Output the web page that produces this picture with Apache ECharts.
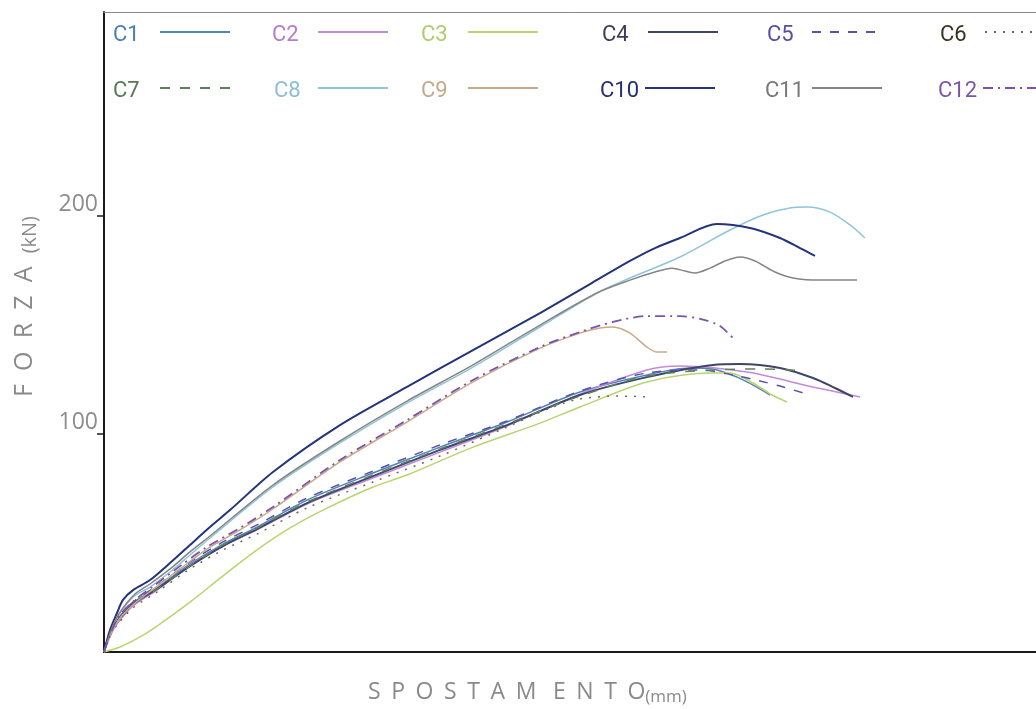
<!DOCTYPE html>
<html>
<head>
<meta charset="utf-8">
<script src="https://cdn.jsdelivr.net/npm/echarts@6/dist/echarts.min.js"></script>
<style>
html,body{margin:0;padding:0;background:#fff;}
#chart{width:1036px;height:709px;}
</style>
</head>
<body>
<div id="chart"></div>
<script>
// ---- data (x: displacement, y: force kN) ----
const names = ['C1','C2','C3','C4','C5','C6','C7','C8','C9','C10','C11','C12'];
const yTicks = [100, 200];

const C1 = [[0,0],[0.6,8.3],[1.3,13.8],[2.9,22.5],[5.3,29.4],[8.6,40.4],[11.9,49.5],[15.3,57.3],[20.3,69.7],[26.9,82.1],[33.6,94.0],[40.3,105.5],[47.6,119.3],[54.3,127.1],[58.6,130.3],[60.9,129.8],[63.3,126.1],[65.1,122.0],[66.6,117.9]];
const C2 = [[0,0],[0.6,7.3],[1.3,12.8],[2.9,21.1],[5.3,28.4],[8.6,39.9],[11.9,48.6],[15.3,56.0],[20.3,67.9],[26.9,79.8],[33.6,91.7],[40.3,103.7],[47.6,118.3],[54.3,129.4],[57.6,131.2],[64.3,128.4],[70.9,121.6],[75.6,117.0]];
const C3 = [[0,0],[1.6,2.3],[3.6,6.9],[5.3,11.9],[8.6,22.9],[11.9,34.9],[15.3,46.8],[18.6,56.9],[21.9,65.1],[26.9,75.7],[30.3,81.2],[36.9,94.0],[43.6,105.0],[47.6,112.4],[54.3,123.9],[60.9,128.0],[62.6,128.0],[64.9,123.4],[66.8,117.9],[68.3,114.7]];
const C4 = [[0,0],[0.6,8.7],[1.3,14.2],[2.9,22.0],[5.3,28.9],[8.6,39.4],[11.9,48.6],[15.3,56.4],[20.3,68.3],[26.9,80.7],[33.6,92.7],[40.3,104.1],[47.6,117.9],[54.3,126.1],[60.9,131.7],[63.6,132.1],[67.6,130.3],[70.9,125.7],[73.1,121.1],[74.9,117.0]];
const C5 = [[0,0],[0.6,9.2],[1.3,14.7],[2.9,22.9],[5.3,30.3],[8.6,41.3],[11.9,50.5],[15.3,58.3],[20.3,70.6],[26.9,83.0],[33.6,95.0],[40.3,106.0],[47.6,119.7],[54.3,128.0],[59.6,129.4],[62.9,127.1],[65.6,124.3],[67.6,122.0],[70.3,118.3]];
const C6 = [[0,0],[0.6,7.3],[1.3,12.4],[2.9,20.2],[5.3,27.5],[8.6,38.1],[11.9,46.8],[15.3,54.1],[20.3,66.1],[26.9,78.0],[33.6,89.9],[40.3,103.2],[44.6,111.9],[47.6,116.1],[51.6,117.4],[54.8,117.0]];
const C7 = [[0,0],[0.6,8.3],[1.3,13.3],[2.9,21.6],[5.3,28.9],[8.6,39.4],[11.9,49.1],[15.3,56.9],[20.3,68.8],[26.9,81.2],[33.6,93.1],[40.3,104.6],[47.6,117.4],[54.3,126.6],[60.9,129.4],[65.6,129.8],[68.6,129.4],[70.1,128.9]];
const C8 = [[0,0],[0.7,9.2],[1.3,15.6],[2.9,25.2],[4.6,29.8],[6.6,36.7],[8.6,44.5],[10.6,52.3],[16.9,75.7],[23.6,95.9],[30.3,114.2],[36.9,130.7],[43.6,149.1],[49.3,164.7],[52.6,171.6],[57.6,181.2],[62.6,193.6],[65.9,200.5],[68.6,203.7],[70.3,204.1],[72.6,201.8],[74.6,195.9],[76.1,189.9]];
const C9 = [[0,0],[0.8,9.2],[1.6,15.6],[3.1,22.5],[5.1,29.4],[7.6,38.1],[10.3,47.2],[13.6,56.0],[16.9,65.6],[23.6,87.2],[30.3,105.5],[36.9,123.9],[43.6,139.4],[47.6,146.3],[49.6,148.6],[50.9,149.1],[52.6,146.3],[54.3,139.9],[55.3,137.6],[56.3,137.6]];
const C10 = [[0,0],[0.6,10.1],[1.3,17.9],[1.9,23.9],[2.9,28.4],[4.6,33.0],[6.6,40.8],[8.6,49.1],[10.6,57.3],[12.6,65.1],[16.9,82.6],[23.6,104.1],[30.3,121.6],[36.9,138.5],[43.6,155.5],[48.6,168.8],[52.6,179.4],[55.1,185.3],[57.6,189.9],[61.3,196.3],[64.6,194.5],[67.6,189.9],[69.6,185.3],[71.1,181.7]];
const C11 = [[0,0],[0.8,11.0],[1.6,18.3],[3.1,26.6],[4.6,31.2],[6.6,38.1],[8.6,45.9],[10.6,53.2],[16.9,76.6],[23.6,96.8],[30.3,115.1],[36.9,131.7],[43.6,150.0],[49.3,164.7],[52.6,170.6],[55.1,174.3],[56.8,176.1],[58.1,174.8],[59.1,173.9],[60.6,176.1],[62.1,179.4],[63.6,181.2],[65.1,179.4],[67.1,174.3],[68.9,171.6],[71.6,170.6],[75.3,170.6]];
const C12 = [[0,0],[0.8,10.1],[1.6,17.0],[3.1,23.9],[5.1,30.7],[7.6,39.4],[10.3,48.2],[13.6,56.9],[16.9,66.5],[23.6,88.1],[30.3,106.4],[36.9,124.8],[43.6,139.9],[47.6,146.8],[50.9,151.4],[54.3,154.1],[57.6,154.1],[60.1,152.3],[61.6,149.5],[62.9,144.0]];

const seriesData = [C1,C2,C3,C4,C5,C6,C7,C8,C9,C10,C11,C12];

// ---- styles ----
const lineColors = ['#4f86b8','#c489d9','#b8d46e','#3d4666','#5b4fa8','#6e6a58','#5e7f5e','#8ec5dd','#c9a987','#22347a','#858585','#7b52ad'];
const textColors = ['#4a7fb5','#b57ccc','#b0cc6c','#3a3f55','#5b4aa8','#3a3320','#577a55','#8cbfd6','#c4a88a','#24306e','#777777','#7a55b0'];
const lineTypes = ['solid','solid','solid','solid',[9,9],[2,7],[10,10],'solid','solid','solid','solid',[10,5,2,5]];
const lineWidths = [1.5,1.5,1.5,2,1.5,1.5,1.5,1.5,1.5,2,1.5,1.8];
const legendLeft = [113,272,421,602,767,940,113,274,421,600,765,938];
const legendTop  = [18,18,18,18,18,18,74,74,74,74,74,74];
const legendTextW = [42,41,42,41,40,40,42,39,42,40,42,40];

const chart = echarts.init(document.getElementById('chart'), null, {renderer:'canvas'});

const legends = names.map((n, i) => ({
  data: [{name: n, textStyle: {color: textColors[i]}}],
  left: legendLeft[i],
  top: legendTop[i],
  padding: 0,
  align: 'right',
  itemWidth: 70,
  itemHeight: 24,
  selectedMode: false,
  itemStyle: {color: 'rgba(0,0,0,0)', borderColor: 'rgba(0,0,0,0)', borderWidth: 0, opacity: 0},
  formatter: name => '{a|' + name + '}',
  textStyle: {
    rich: {
      a: {
        width: legendTextW[i],
        align: 'left',
        fontSize: 22,
        lineHeight: 24,
        padding: [6, 0, 0, 0],
        fontFamily: '"Liberation Sans Narrow","Roboto",sans-serif'
      }
    }
  }
}));

const series = names.map((n, i) => ({
  name: n,
  type: 'line',
  data: seriesData[i],
  smooth: 0.3,
  symbol: 'none',
  lineStyle: {color: lineColors[i], width: lineWidths[i], type: lineTypes[i]},
  itemStyle: {color: lineColors[i]},
  z: 2
}));

const sp = ' \u200A\u200A';
const xTitle = 'SPOSTAM'.split('').join(sp) + sp + ' ' + 'ENTO'.split('').join(sp);
const ysp = ' \u2009\u200A';
const yTitle = 'FORZA'.split('').join(ysp) + ysp;

chart.setOption({
  animation: false,
  backgroundColor: '#ffffff',
  legend: legends,
  grid: {left: 104, right: 0, top: 12, bottom: 57, containLabel: false},
  xAxis: [{
    type: 'value', min: 0, max: 93.2,
    axisLine: {show: true, onZero: false, lineStyle: {color: '#1a1a1a', width: 2}},
    axisTick: {show: false}, axisLabel: {show: false}, splitLine: {show: false}
  }, {
    type: 'value', position: 'top', min: 0, max: 93.2,
    axisLine: {show: true, onZero: false, lineStyle: {color: '#8a8a8a', width: 1}},
    axisTick: {show: false}, axisLabel: {show: false}, splitLine: {show: false}
  }],
  yAxis: {
    type: 'value', min: 0, max: 293.6,
    axisLine: {show: true, onZero: false, lineStyle: {color: '#1a1a1a', width: 2}},
    axisTick: {show: true, inside: false, length: 7, customValues: yTicks, lineStyle: {color: '#1a1a1a', width: 1.5}},
    axisLabel: {
      customValues: yTicks, margin: 6, color: '#8c8c8c', fontSize: 23,
      fontFamily: '"Open Sans","Noto Sans",sans-serif', verticalAlign: 'bottom', lineHeight: 23
    },
    splitLine: {show: false}
  },
  graphic: [{
    type: 'text', x: 368, y: 692, silent: true,
    style: {
      text: '{a|' + xTitle + '}{b|(mm)}',
      fill: '#8a8a8a',
      align: 'left', verticalAlign: 'middle',
      rich: {
        a: {fontSize: 23, lineHeight: 28, fontFamily: '"Open Sans","Noto Sans",sans-serif'},
        b: {fontSize: 17, lineHeight: 20, verticalAlign: 'bottom', fontFamily: '"Open Sans","Noto Sans",sans-serif'}
      }
    }
  }, {
    type: 'text', x: 25, y: 397, rotation: Math.PI / 2, silent: true,
    style: {
      text: '{a|' + yTitle + '}{b|(kN)}',
      fill: '#8a8a8a',
      align: 'left', verticalAlign: 'middle',
      rich: {
        a: {fontSize: 25, lineHeight: 30, fontFamily: '"Open Sans","Noto Sans",sans-serif'},
        b: {fontSize: 20, lineHeight: 22, verticalAlign: 'bottom', fontFamily: '"Open Sans","Noto Sans",sans-serif'}
      }
    }
  }],
  series: series
});
</script>
</body>
</html>
